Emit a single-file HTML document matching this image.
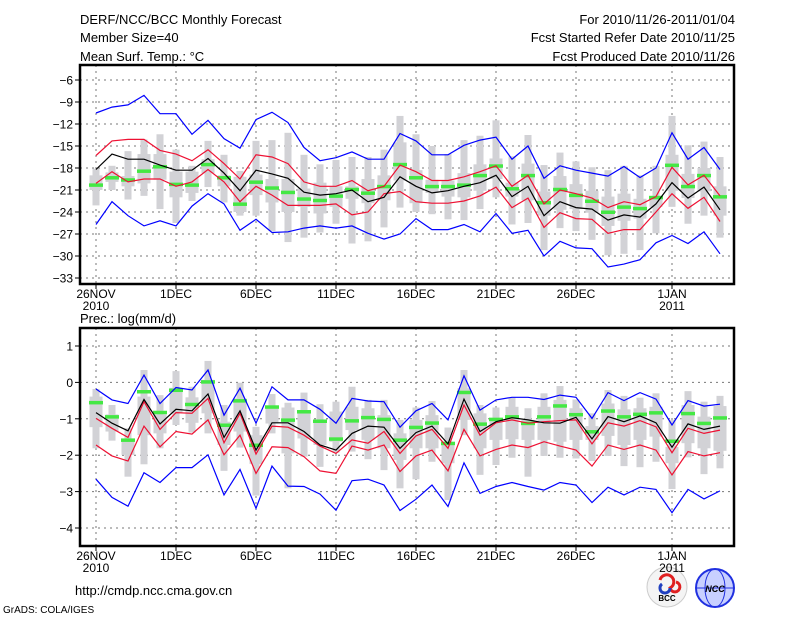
<!DOCTYPE html>
<html><head><meta charset="utf-8"><style>
body{margin:0;background:#fff;width:800px;height:618px;overflow:hidden}
svg text{font-family:"Liberation Sans",sans-serif;fill:#000}
</style></head><body>
<svg id="chart" width="800" height="618" viewBox="0 0 800 618" xmlns="http://www.w3.org/2000/svg">
<rect width="800" height="618" fill="#fff"/>
<g font-size="13">
<text x="80" y="24">DERF/NCC/BCC Monthly Forecast</text>
<text x="80" y="42">Member Size=40</text>
<text x="80" y="61">Mean Surf. Temp.: °C</text>
<text x="735" y="24" text-anchor="end">For 2010/11/26-2011/01/04</text>
<text x="735" y="42" text-anchor="end">Fcst Started Refer Date 2010/11/25</text>
<text x="735" y="61" text-anchor="end">Fcst Produced Date 2010/11/26</text>
<text x="80" y="323">Prec.: log(mm/d)</text>
<text x="75" y="595">http://cmdp.ncc.cma.gov.cn</text>
<text x="3" y="613" font-size="10">GrADS: COLA/IGES</text>
</g>
<g>
<circle cx="667" cy="587" r="20" fill="#f4f4f4" stroke="#ccc"/>
<path d="M660 580 a7 7 0 1 1 10 8 a5 5 0 1 0 6 -6" fill="none" stroke="#e02020" stroke-width="3"/>
<path d="M662 584 a5 5 0 1 0 8 4" fill="none" stroke="#2040c0" stroke-width="3"/>
<text x="667" y="601" font-size="8" text-anchor="middle" font-weight="bold">BCC</text>
</g>
<g>
<circle cx="715" cy="588" r="19" fill="#c8d0ff" stroke="#2030e0" stroke-width="2"/>
<ellipse cx="715" cy="588" rx="10" ry="19" fill="none" stroke="#2030e0"/>
<line x1="696" y1="588" x2="734" y2="588" stroke="#2030e0"/>
<text x="715" y="592" font-size="9" text-anchor="middle" font-style="italic" font-weight="bold" fill="#1020d0">NCC</text>
</g>
<g id="p1"></g>
<g id="p2"></g>
</svg>
<script>
const dateLabels=["26NOV","1DEC","6DEC","11DEC","16DEC","21DEC","26DEC","1JAN"];
const dateIdx=[0,5,10,15,20,25,30,36];
const yearLabels=["2010","","","","","","","2011"];
const tTicks=[-6,-9,-12,-15,-18,-21,-24,-27,-30,-33];
const pTicks=[1,0,-1,-2,-3,-4];
// temperature
const tBlueHi=[-10.5,-9.7,-9.4,-8.1,-10.6,-10.6,-13.4,-11.5,-14.0,-15.3,-11.4,-10.4,-11.8,-15.2,-17.0,-16.6,-15.8,-16.8,-16.8,-13.3,-14.3,-16.2,-16.2,-14.9,-14.2,-13.8,-16.8,-15.0,-19.4,-17.7,-18.3,-18.7,-19.1,-17.8,-19.3,-18.0,-13.2,-16.8,-15.2,-18.2];
const tBlueLo=[-25.7,-22.6,-24.5,-25.9,-25.2,-25.9,-23.2,-21.5,-22.9,-26.5,-25.0,-26.8,-26.7,-26.2,-25.9,-26.2,-25.9,-26.9,-27.7,-27.0,-24.9,-26.4,-26.4,-25.7,-26.7,-24.2,-26.9,-26.5,-30.0,-28.0,-28.9,-29.0,-31.5,-31.1,-30.5,-28.2,-27.2,-28.3,-26.7,-29.7];
const tRedHi=[-16.3,-14.3,-14.1,-14.1,-15.6,-16.1,-17.0,-15.5,-17.4,-19.5,-16.2,-16.5,-17.4,-19.9,-20.5,-20.5,-19.7,-21.1,-20.5,-17.6,-18.5,-19.7,-19.7,-19.2,-18.5,-17.7,-20.5,-19.0,-22.9,-21.0,-21.5,-22.1,-23.4,-22.6,-23.0,-21.9,-17.9,-20.3,-19.0,-21.8];
const tRedLo=[-20.1,-18.5,-19.9,-19.5,-19.5,-20.5,-19.9,-18.2,-19.9,-22.6,-20.5,-21.7,-23.1,-23.1,-23.1,-22.9,-24.4,-24.0,-21.5,-21.2,-22.6,-22.8,-22.8,-22.5,-21.8,-20.6,-23.4,-22.1,-26.1,-24.1,-24.9,-25.0,-26.9,-26.4,-26.4,-24.0,-21.5,-23.5,-22.0,-25.3];
const tMean=[-18.2,-16.1,-16.8,-16.8,-17.6,-18.3,-18.3,-16.7,-18.7,-21.1,-18.3,-18.8,-19.4,-21.3,-21.7,-21.5,-21.0,-22.6,-22.0,-19.2,-20.5,-21.4,-21.1,-20.5,-20.0,-19.0,-21.9,-20.5,-24.5,-22.6,-23.4,-23.6,-25.1,-24.4,-24.7,-22.9,-20.0,-22.1,-20.6,-23.7];
const tGreen=[-20.3,-19.3,-19.6,-18.4,-17.8,-20.2,-20.3,-17.5,-19.3,-22.9,-19.9,-20.7,-21.3,-22.2,-22.4,-21.8,-20.9,-21.4,-20.5,-17.5,-19.3,-20.5,-20.5,-20.3,-19.0,-17.7,-20.8,-19.0,-22.7,-20.9,-21.7,-22.5,-24.0,-23.3,-23.5,-22.0,-17.6,-20.5,-19.0,-21.9];
const tMax=[-18.1,-17.7,-15.7,-14.1,-13.4,-15.5,-17.7,-14.3,-16.2,-18.4,-14.3,-14.2,-13.2,-16.2,-17.5,-16.9,-16.5,-16.5,-15.5,-10.9,-13.4,-15.0,-16.1,-14.2,-13.6,-11.5,-16.4,-13.5,-17.6,-15.9,-17.1,-17.9,-18.3,-17.7,-19.0,-17.7,-10.9,-14.9,-14.4,-16.5];
const tMin=[-23.1,-21.0,-22.3,-21.8,-23.6,-25.5,-22.5,-20.6,-22.7,-24.5,-24.5,-26.6,-28.1,-27.5,-26.8,-25.6,-28.3,-28.0,-26.1,-23.4,-24.0,-24.3,-25.0,-25.1,-23.6,-22.0,-25.7,-25.5,-29.2,-26.2,-26.6,-27.8,-29.9,-29.7,-29.2,-26.9,-23.3,-25.6,-24.5,-27.5];
const tQ3=[-19.0,-18.6,-19.1,-16.1,-16.1,-18.5,-18.5,-16.8,-19.0,-19.2,-18.9,-19.5,-19.5,-20.8,-20.0,-20.5,-20.5,-19.5,-19.0,-14.5,-18.3,-19.6,-19.7,-18.7,-17.5,-16.7,-20.0,-17.4,-21.2,-19.1,-20.2,-21.1,-21.9,-21.5,-22.2,-21.8,-16.2,-18.8,-18.0,-20.5];
const tQ1=[-21.0,-19.9,-20.5,-20.1,-19.6,-22.0,-21.4,-18.7,-20.5,-24.0,-21.7,-22.7,-24.0,-23.3,-24.2,-23.3,-22.2,-22.8,-22.4,-19.7,-22.8,-21.4,-21.9,-22.0,-21.1,-19.5,-21.9,-22.4,-24.5,-23.7,-23.6,-24.1,-25.9,-25.2,-24.9,-23.3,-21.1,-22.1,-21.2,-24.5];
// precipitation
const pBlueHi=[-0.18,-0.48,-0.58,0.20,-0.58,-0.14,-0.21,0.34,-0.90,-0.16,-1.12,-0.12,-0.48,-0.48,-0.74,-1.12,-0.44,-0.51,-0.53,-1.23,-0.78,-0.58,-1.03,0.18,-0.76,-0.48,-0.41,-0.41,-0.47,-0.35,-0.41,-0.99,-0.28,-0.50,-0.28,-0.46,-1.17,-0.50,-0.65,-0.60];
const pBlueLo=[-2.66,-3.16,-3.40,-2.48,-2.75,-2.34,-2.34,-1.99,-3.09,-2.39,-3.46,-2.30,-2.85,-2.86,-3.07,-3.51,-2.70,-2.66,-2.82,-3.52,-3.21,-2.82,-3.41,-2.21,-3.05,-2.86,-2.75,-2.86,-2.96,-2.75,-2.82,-3.30,-2.88,-3.09,-2.88,-2.94,-3.58,-2.94,-3.20,-2.98];
const pRedHi=[-0.99,-1.26,-1.51,-0.53,-1.29,-0.83,-0.85,-0.44,-1.66,-0.85,-1.97,-1.20,-1.23,-1.45,-1.75,-1.95,-1.58,-1.67,-1.35,-1.95,-1.47,-1.29,-1.81,-0.62,-1.45,-1.11,-1.03,-1.12,-1.08,-1.05,-1.03,-1.69,-1.11,-1.20,-1.05,-1.22,-1.93,-1.26,-1.40,-1.31];
const pRedLo=[-1.72,-2.02,-2.16,-1.20,-1.77,-1.35,-1.42,-1.03,-1.99,-1.45,-2.50,-1.77,-1.79,-2.04,-2.43,-2.50,-1.75,-1.86,-1.72,-2.45,-2.02,-1.86,-2.43,-1.29,-2.02,-1.84,-1.72,-1.79,-1.63,-1.75,-1.86,-2.30,-1.72,-1.84,-1.72,-1.86,-2.54,-1.90,-2.02,-1.93];
const pMean=[-0.83,-1.12,-1.33,-0.47,-1.14,-0.74,-0.78,-0.32,-1.51,-0.78,-1.86,-1.11,-1.11,-1.35,-1.72,-1.86,-1.40,-1.20,-1.23,-1.81,-1.38,-1.20,-1.69,-0.46,-1.35,-1.08,-0.97,-1.03,-1.11,-1.12,-0.96,-1.55,-0.94,-1.08,-0.92,-1.11,-1.78,-1.14,-1.29,-1.20];
const pGreen=[-0.55,-0.94,-1.58,-0.25,-0.82,-0.21,-0.60,0.02,-1.17,-0.50,-1.72,-0.67,-1.03,-0.80,-1.06,-1.55,-1.05,-0.96,-1.01,-1.58,-1.23,-1.11,-1.67,-0.27,-1.14,-1.01,-0.94,-1.12,-0.94,-0.64,-0.88,-1.35,-0.78,-0.94,-0.87,-0.83,-1.61,-0.85,-1.12,-0.97];
const pMax=[-0.18,-0.62,-1.26,0.34,-0.35,0.31,-0.12,0.59,-0.62,-0.01,-1.22,-0.32,-0.56,-0.28,-0.60,-0.53,-0.12,-0.48,-0.48,-1.03,-0.69,-0.51,-1.24,0.34,-0.62,-0.69,-0.42,-0.71,-0.30,-0.10,-0.47,-0.85,-0.21,-0.37,-0.42,-0.30,-1.03,-0.24,-0.53,-0.37];
const pMin=[-1.81,-1.60,-2.59,-2.25,-1.81,-1.17,-1.38,-1.40,-2.43,-1.79,-3.11,-1.40,-2.91,-2.04,-2.32,-1.93,-1.90,-2.11,-2.41,-2.91,-2.66,-2.18,-3.23,-1.45,-2.54,-2.27,-2.07,-2.59,-2.02,-2.07,-2.09,-2.16,-2.02,-2.30,-2.33,-2.18,-2.93,-2.06,-2.52,-2.36];
const pQ3=[-0.39,-0.88,-1.54,-0.39,-0.88,-0.15,-0.41,0.07,-1.08,-0.44,-1.45,-0.67,-0.69,-0.78,-1.02,-0.80,-0.67,-0.71,-0.90,-1.40,-1.03,-0.90,-1.69,-0.16,-0.85,-1.03,-0.67,-1.03,-0.67,-0.48,-0.71,-1.20,-0.58,-0.74,-0.71,-0.67,-1.77,-0.62,-0.94,-0.65];
const pQ1=[-1.23,-1.35,-1.99,-1.45,-1.40,-0.83,-1.11,-0.85,-1.72,-1.35,-2.24,-1.13,-1.95,-1.54,-1.72,-1.63,-1.31,-1.58,-1.81,-2.13,-1.81,-1.81,-2.22,-1.03,-1.81,-1.58,-1.56,-1.58,-1.58,-1.63,-1.58,-1.58,-1.47,-1.72,-1.58,-1.49,-2.22,-1.67,-1.81,-1.88];

const NS="http://www.w3.org/2000/svg";
function mk(parent,tag,attrs){const e=document.createElementNS(NS,tag);for(const k in attrs)e.setAttribute(k,attrs[k]);parent.appendChild(e);return e;}
const X0=80,X1=734;
function xOf(i){return 96+16*i;}

function panel(gid,top,bottom,tickVals,yOf,d,labY){
  const g=document.getElementById(gid);
  // grid
  tickVals.forEach(v=>{
    const y=yOf(v);
    const l=mk(g,'line',{x1:X0,x2:X1,y1:y,y2:y,stroke:'#777','stroke-dasharray':'2,4','stroke-width':1});
    
    
    const tk=mk(g,'line',{x1:X0-5,x2:X0,y1:y,y2:y,stroke:'#000'});
    
    
    const t=mk(g,'text',{x:X0-7,y:y+4.5,'text-anchor':'end','font-size':12});
    t.textContent=(v<0?'\u2212'+(-v):String(v));
    
    
  });
  dateIdx.forEach((di,k)=>{
    const x=xOf(di);
    const l=mk(g,'line',{x1:x,x2:x,y1:top,y2:bottom,stroke:'#777','stroke-dasharray':'2,4','stroke-width':1});
    
    
    const tk=mk(g,'line',{x1:x,x2:x,y1:bottom,y2:bottom+5,stroke:'#000'});
    
    
    const t=mk(g,'text',{x:x,y:labY,'text-anchor':'middle','font-size':12});
    t.textContent=dateLabels[k];
    
    
    if(yearLabels[k]){
      const t2=mk(g,'text',{x:x,y:labY+12,'text-anchor':'middle','font-size':12});
      t2.textContent=yearLabels[k];
      
      
    }
  });
  // boxes
  d.max.forEach((mx,i)=>{
    const x=xOf(i);
    const a=mk(g,'rect',{x:x-3.5,y:yOf(mx),width:7,height:yOf(d.min[i])-yOf(mx),fill:'#d2d2d6'});
    
    
    const b=mk(g,'rect',{x:x-6.5,y:yOf(d.q3[i]),width:13,height:yOf(d.q1[i])-yOf(d.q3[i]),fill:'#d2d2d6'});
    
    
  });
  d.green.forEach((v,i)=>{
    const r=mk(g,'rect',{x:xOf(i)-7,y:yOf(v)-1.5,width:14,height:3.5,fill:'#44e844'});
    
    
  });
  function line(arr,color,name){
    const p=mk(g,'polyline',{points:arr.map((v,i)=>xOf(i)+','+yOf(v).toFixed(1)).join(' '),fill:'none',stroke:color,'stroke-width':1.2});
    
    
  }
  line(d.bhi,'#0000ff','blue-upper-line');
  line(d.blo,'#0000ff','blue-lower-line');
  line(d.rhi,'#ee1133','red-upper-line');
  line(d.rlo,'#ee1133','red-lower-line');
  line(d.mean,'#000000','ensemble-mean-line');
  const f=mk(g,'rect',{x:X0,y:top,width:X1-X0,height:bottom-top,fill:'none',stroke:'#000','stroke-width':2.5});
  
  
}
panel('p1',65,284,tTicks,v=>80+(-6-v)*7.333,
 {max:tMax,min:tMin,q3:tQ3,q1:tQ1,green:tGreen,bhi:tBlueHi,blo:tBlueLo,rhi:tRedHi,rlo:tRedLo,mean:tMean},298);
panel('p2',328,546,pTicks,v=>346+(1-v)*36.4,
 {max:pMax,min:pMin,q3:pQ3,q1:pQ1,green:pGreen,bhi:pBlueHi,blo:pBlueLo,rhi:pRedHi,rlo:pRedLo,mean:pMean},560);
</script>
</body></html>
